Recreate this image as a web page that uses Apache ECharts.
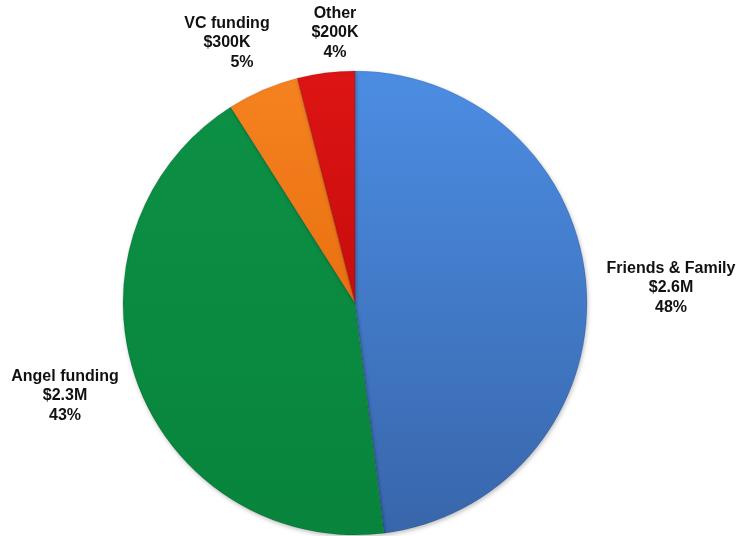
<!DOCTYPE html>
<html>
<head>
<meta charset="utf-8">
<script src="https://cdn.jsdelivr.net/npm/echarts@6/dist/echarts.min.js"></script>
<style>
  html, body { margin: 0; padding: 0; background: #ffffff; }
  #chart { width: 741px; height: 536px; }
</style>
</head>
<body>
<div id="chart"></div>
<script>
// Funding sources, clockwise from 12 o'clock
const categories = ['Friends & Family', 'Angel funding', 'VC funding', 'Other'];
const amounts = ['$2.6M', '$2.3M', '$300K', '$200K'];
const percents = [48, 43, 5, 4];

// Slice fills: top / bottom shades of a soft vertical gradient
const sliceTop = ['#4c8de3', '#0c9045', '#f58220', '#dd1414'];
const sliceBottom = ['#3866ab', '#08843c', '#ea7010', '#c80c0c'];

// Centre of each label block, and a nudge for the percentage line
const labelCenters = [[671, 288], [65, 396], [227, 43], [335, 33]];
const pctIndent = [0, 0, 30, 0];

const chart = echarts.init(document.getElementById('chart'), null, { renderer: 'canvas' });

const textStyle = {
  fontFamily: 'Liberation Sans, Arial, sans-serif',
  fontWeight: 'bold',
  fontSize: 16,
  lineHeight: 19.5,
  color: '#111111'
};

chart.setOption({
  animation: false,
  series: [{
    type: 'pie',
    center: [355, 303],
    radius: 232,
    startAngle: 90,
    clockwise: true,
    avoidLabelOverlap: false,
    itemStyle: {
      borderColor: 'rgba(0,0,0,0.18)',
      borderWidth: 0.6,
      shadowColor: 'rgba(0,0,0,0.25)',
      shadowBlur: 4,
      shadowOffsetX: 1,
      shadowOffsetY: 2
    },
    label: Object.assign({
      show: true,
      position: 'outside',
      align: 'center',
      formatter: function (p) {
        return p.name + '\n' + amounts[p.dataIndex] + '\n{pct' + p.dataIndex + '|' + p.value + '%}';
      },
      rich: {
        pct0: Object.assign({ padding: [0, 0, 0, pctIndent[0]] }, textStyle),
        pct1: Object.assign({ padding: [0, 0, 0, pctIndent[1]] }, textStyle),
        pct2: Object.assign({ padding: [0, 0, 0, pctIndent[2]] }, textStyle),
        pct3: Object.assign({ padding: [0, 0, 0, pctIndent[3]] }, textStyle)
      }
    }, textStyle),
    labelLine: { show: false },
    labelLayout: function (params) {
      const c = labelCenters[params.dataIndex];
      return {
        x: c[0],
        y: c[1],
        align: 'center',
        verticalAlign: 'middle'
      };
    },
    emphasis: { disabled: true },
    data: categories.map(function (name, i) {
      return {
        name: name,
        value: percents[i],
        itemStyle: {
          color: new echarts.graphic.LinearGradient(0, 0, 0, 1, [
            { offset: 0, color: sliceTop[i] },
            { offset: 1, color: sliceBottom[i] }
          ])
        }
      };
    })
  }]
});
</script>
</body>
</html>
